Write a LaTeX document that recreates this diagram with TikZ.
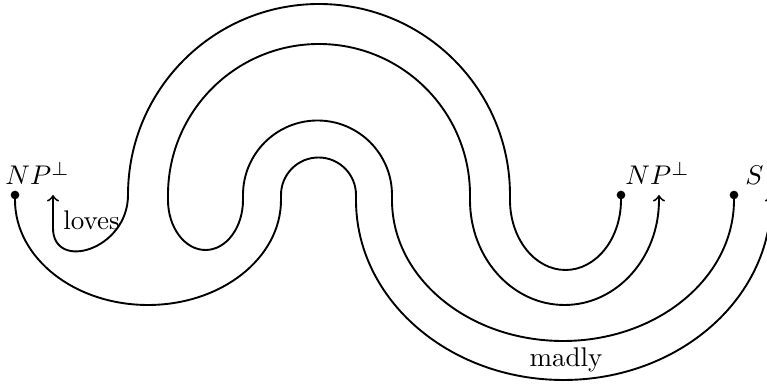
\documentclass[tikz,border=0pt]{standalone}
\begin{document}
\begin{tikzpicture}[x=0.37pt,y=0.37pt,
  wire/.style={line width=0.7pt},
  dotmark/.style={fill=black}]
\useasboundingbox (0,0) rectangle (767,388);
\clip (0,0) rectangle (767,388);
% end points
\coordinate (d1) at (15,193);
\coordinate (a1) at (53,193);
\coordinate (d2) at (621,193);
\coordinate (a2) at (659,193);
\coordinate (d3) at (734,193);
\coordinate (a3) at (771,193);
% labels
\node[anchor=base,inner sep=0pt] (l1) at (37.5,203) {$NP^\perp$};
\node[anchor=base,inner sep=0pt] (l2) at (657.5,203) {$NP^\perp$};
\node[anchor=base,inner sep=0pt] (l3) at (754.5,203) {$S$};
\node[anchor=base,inner sep=0pt] (loves) at (91.5,158) {loves};
\node[anchor=base,inner sep=0pt] (madly) at (566,21) {madly};
% wire A: loves
\draw[wire,->] (d2) -- ++(0,-5)
  arc[start angle=0,end angle=-180,x radius=55.5,y radius=70]
  -- ++(0,5)
  arc[start angle=0,end angle=180,radius=191]
  .. controls (128,138) and (53,116) .. (53,160) -- (a1);
% wire B
\draw[wire,->] (d3) -- ++(0,-5)
  arc[start angle=0,end angle=-180,x radius=171,y radius=141]
  -- ++(0,5)
  arc[start angle=0,end angle=180,radius=74.5]
  -- ++(0,-5)
  arc[start angle=0,end angle=-180,x radius=37.5,y radius=50]
  -- ++(0,5)
  arc[start angle=180,end angle=0,radius=151]
  -- ++(0,-5)
  arc[start angle=180,end angle=360,x radius=94.5,y radius=105]
  -- (a2);
% wire C: madly
\draw[wire,->] (d1) -- ++(0,-5)
  arc[start angle=180,end angle=360,x radius=133,y radius=105]
  -- ++(0,5)
  arc[start angle=180,end angle=0,radius=37.5]
  -- ++(0,-5)
  arc[start angle=180,end angle=360,x radius=207.5,y radius=180]
  -- (a3);
% dots
\fill[dotmark] (d1) circle[radius=1.6pt];
\fill[dotmark] (d2) circle[radius=1.6pt];
\fill[dotmark] (d3) circle[radius=1.6pt];
\end{tikzpicture}
\end{document}
